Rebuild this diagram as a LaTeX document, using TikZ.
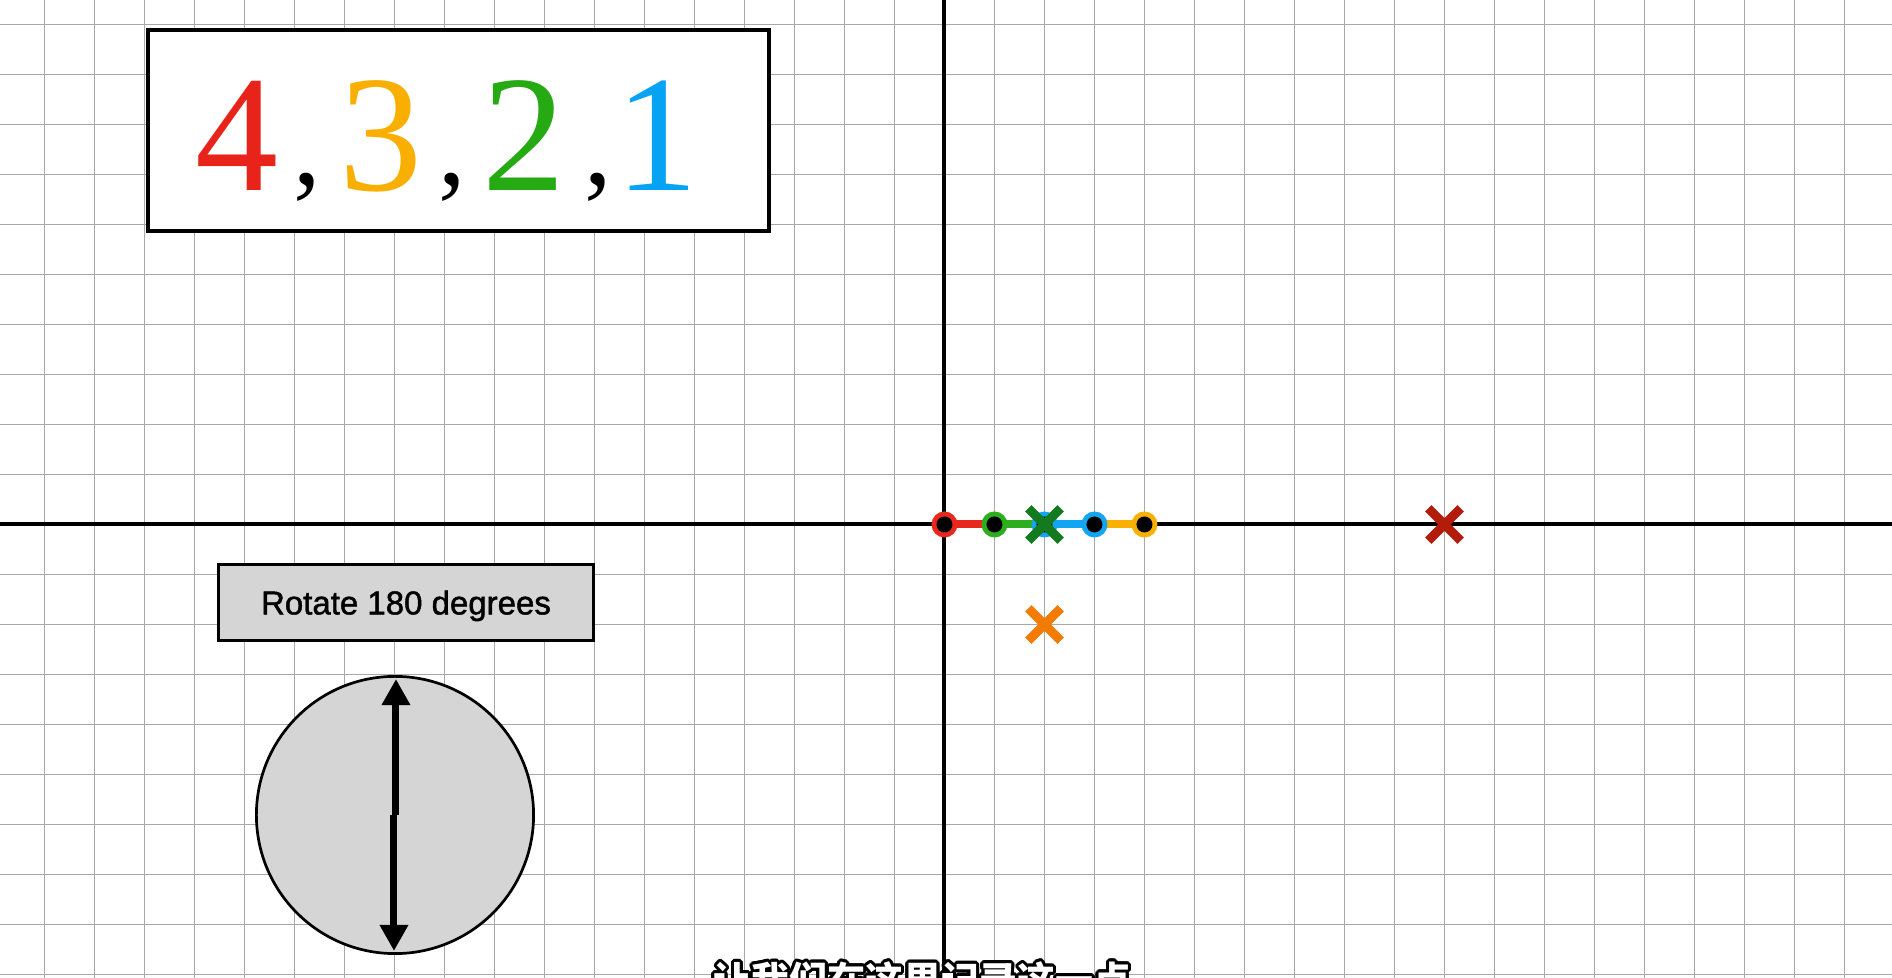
\documentclass[tikz,border=0pt]{standalone}
\usepackage{fontspec}
\setmainfont{Liberation Serif}
\newfontfamily\sansf[FakeBold=1.4]{Liberation Sans}
\newfontfamily\cjk{Noto Sans CJK SC}
\usetikzlibrary{arrows.meta,shadows}
\definecolor{cRed}{HTML}{E8281C}
\definecolor{cGreen}{HTML}{2DAE1C}
\definecolor{cBlue}{HTML}{12A6F2}
\definecolor{cYellow}{HTML}{F9B000}
\definecolor{xGreen}{HTML}{137A1E}
\definecolor{xDarkRed}{HTML}{B31B0B}
\definecolor{xOrange}{HTML}{F27B00}
\definecolor{dRed}{HTML}{E8231A}
\definecolor{dYellow}{HTML}{F9AF00}
\definecolor{dGreen}{HTML}{25AA14}
\definecolor{dBlue}{HTML}{06A3F4}
\definecolor{gridgray}{HTML}{A8A8A8}
\definecolor{boxgray}{HTML}{D5D5D5}
\newcommand\digitcell[2]{\makebox[0pt]{\textcolor{#1}{#2}}}
\newcommand\commacell{\makebox[0pt]{\raisebox{3pt}{\fontsize{55}{55}\selectfont ,}}}
\begin{document}
\begin{tikzpicture}[x=25pt,y=25pt,
  gridline/.style={draw=gridgray, line width=0.7pt},
  axisline/.style={draw=black, line width=2pt},
  numbox/.style={draw=black, fill=white, line width=2pt, minimum width=310.5pt, minimum height=100.5pt, inner sep=0pt, drop shadow={shadow xshift=1.2pt, shadow yshift=-1.2pt, opacity=0.25}},
  digitstyle/.style={anchor=base west, inner sep=0pt, font=\fontsize{83}{83}\selectfont},
  rotbox/.style={draw=black, fill=boxgray, line width=1.25pt, minimum width=187.5pt, minimum height=38pt, inner sep=0pt, font=\sansf\fontsize{16.5}{16.5}\selectfont, text height=11.9pt, text depth=0pt},
  disc/.style={circle, draw=black, fill=boxgray, line width=1.35pt, minimum size=138.6pt, inner sep=0pt},
  dblarrow/.style={draw=black, line width=3.5pt, -{Triangle[width=13.5pt,length=13pt]}, shorten >=2pt},
  seg/.style={line width=4pt},
  ring/.style={circle, fill=#1, minimum size=13pt, inner sep=0pt, path picture={\fill[black] (path picture bounding box.center) circle (4pt);}},
  xstroke/.style={draw=#1, line width=4.5pt, line cap=butt},
  subtxt/.style={anchor=base, inner sep=0pt, font=\cjk\bfseries\fontsize{19}{19}\selectfont}
]
\useasboundingbox (-18.89,-9.07) rectangle (18.95,10.49);
\fill[white] (-18.89,-9.07) rectangle (18.95,10.49);
\draw[gridline] (-18.89,-9.07) grid[step=1] (18.95,10.49);
\draw[axisline] (-18.89,0) -- (18.95,0);
\draw[axisline] (0,-9.07) -- (0,10.49);

% number box
\node[numbox] (nb) at (-9.72,7.88) {};
\node[digitstyle] (digits) at (-15.05,6.67) {\hspace*{22.5pt}\digitcell{dRed}{4}\hspace*{35pt}\commacell\hspace*{36.75pt}\digitcell{dYellow}{3}\hspace*{35.75pt}\commacell\hspace*{35.75pt}\digitcell{dGreen}{2}\hspace*{37.25pt}\commacell\hspace*{29.5pt}\digitcell{dBlue}{1}\hspace*{22.5pt}};

% rotate box and disc
\node[rotbox] (rot) at (-10.77,-1.56) {Rotate 180 degrees};
\node[disc] (disc) at (-10.99,-5.81) {};
\draw[dblarrow] ([xshift=0.5pt]disc.center) -- ([xshift=0.5pt]disc.north);
\draw[dblarrow] ([xshift=-0.5pt]disc.center) -- ([xshift=-0.5pt]disc.south);

% points on the axis
\coordinate (c0) at (0,0);
\coordinate (c1) at (1,0);
\coordinate (c2) at (2,0);
\coordinate (c3) at (3,0);
\coordinate (c4) at (4,0);
\draw[seg, cRed] (c0) -- (c1);
\draw[seg, cGreen] (c1) -- (c2);
\draw[seg, cBlue] (c2) -- (c3);
\draw[seg, cYellow] (c3) -- (c4);
\node[ring=cRed] (p0) at (c0) {};
\node[ring=cGreen] (p1) at (c1) {};
\node[ring=cBlue] (p2) at (c2) {};
\node[ring=cBlue] (p3) at (c3) {};
\node[ring=cYellow] (p4) at (c4) {};

% crosses
\coordinate (xg) at (2,0);
\coordinate (xr) at (10,0);
\coordinate (xo) at (2,-2);
\foreach \c/\col in {xg/xGreen, xr/xDarkRed, xo/xOrange}{
  \draw[xstroke=\col] ([shift={(-8.1pt,-8.1pt)}]\c) -- ([shift={(8.1pt,8.1pt)}]\c);
  \draw[xstroke=\col] ([shift={(-8.1pt,8.1pt)}]\c) -- ([shift={(8.1pt,-8.1pt)}]\c);
}

% subtitle
\coordinate (subpos) at (-0.44,-9.40);
\foreach \a [count=\i] in {0,22.5,...,337.5}
  \node[subtxt, text=black] (halo\i) at ([shift={(\a:1.5pt)}]subpos) {让我们在这里记录这一点};
\node[subtxt, text=white] (subtitle) at (subpos) {让我们在这里记录这一点};
\end{tikzpicture}
\end{document}
